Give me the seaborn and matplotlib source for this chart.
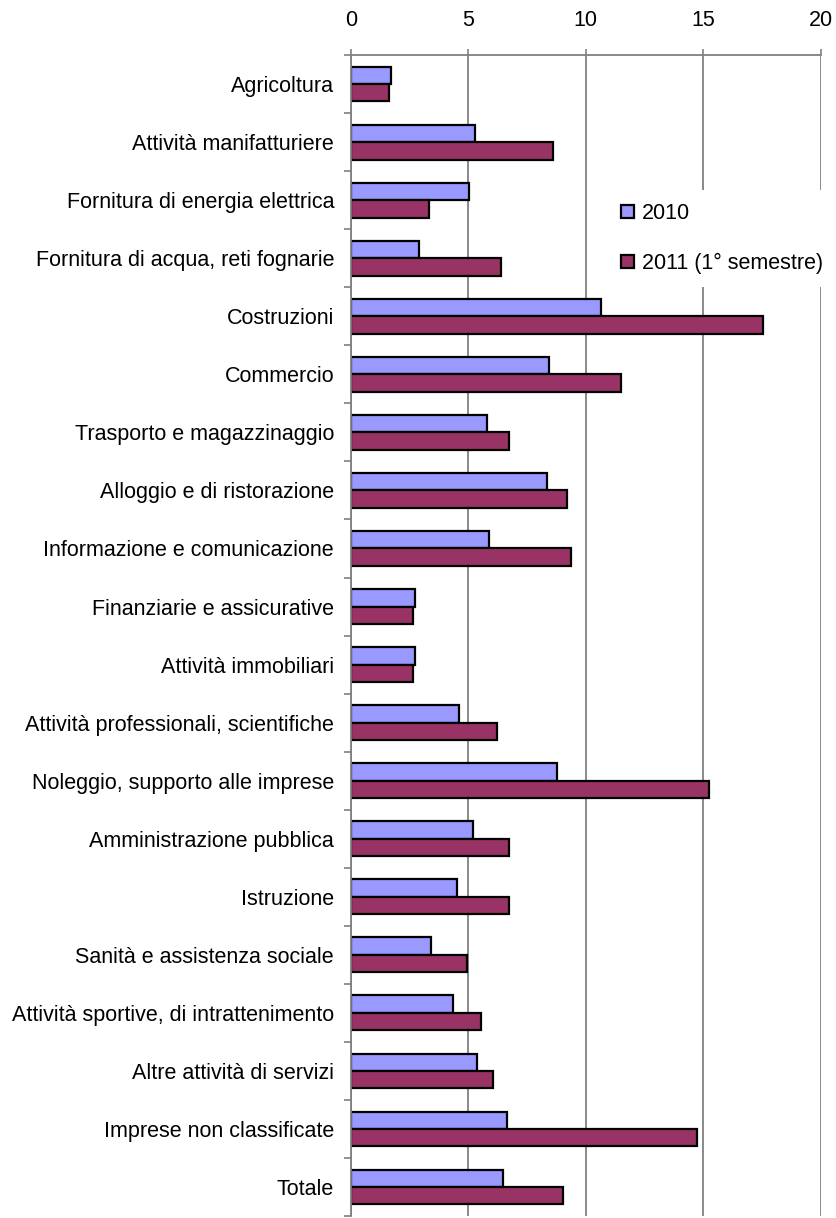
import numpy as np
import pandas as pd
import seaborn as sns
import matplotlib.pyplot as plt
from matplotlib.ticker import MultipleLocator

# %% 1 ── Data ──────────────────────────────────────────────────────────────
settori = [
    "Agricoltura",
    "Attività manifatturiere",
    "Fornitura di energia elettrica",
    "Fornitura di acqua, reti fognarie",
    "Costruzioni",
    "Commercio",
    "Trasporto e magazzinaggio",
    "Alloggio e di ristorazione",
    "Informazione e comunicazione",
    "Finanziarie e assicurative",
    "Attività immobiliari",
    "Attività professionali, scientifiche",
    "Noleggio, supporto alle imprese",
    "Amministrazione pubblica",
    "Istruzione",
    "Sanità e assistenza sociale",
    "Attività sportive, di intrattenimento",
    "Altre attività di servizi",
    "Imprese non classificate",
    "Totale",
]
val_2010 = [1.71, 5.29, 5.02, 2.89, 10.64, 8.43, 5.79, 8.34, 5.87, 2.72,
            2.72, 4.60, 8.77, 5.20, 4.52, 3.40, 4.35, 5.36, 6.65, 6.47]
val_2011 = [1.63, 8.60, 3.33, 6.40, 17.53, 11.50, 6.74, 9.20, 9.36, 2.64,
            2.64, 6.21, 15.23, 6.74, 6.74, 4.95, 5.54, 6.04, 14.74, 9.03]
serie = ["2010", "2011 (1° semestre)"]
colori = ["#9999FF", "#993366"]
x_ticks = [0, 5, 10, 15, 20]

df = pd.DataFrame({
    "settore": settori * 2,
    "valore": val_2010 + val_2011,
    "serie": [serie[0]] * len(settori) + [serie[1]] * len(settori),
})

# %% 2 ── Plot ──────────────────────────────────────────────────────────────
sns.set_theme(style="white")
plt.rcParams["font.family"] = ["Liberation Sans", "DejaVu Sans"]

fig = plt.figure(figsize=(8.37, 12.18), dpi=100)
ax = fig.add_axes([0.419, 0.0016, 0.5616, 0.9532])

sns.barplot(
    data=df, x="valore", y="settore", hue="serie", order=settori,
    hue_order=serie, palette=colori, saturation=1, orient="h", width=0.6,
    gap=0, edgecolor="black", linewidth=1.6, ax=ax, legend=True,
)

ax.set_xlim(0, 20)
ax.set_ylim(len(settori) - 0.5, -0.5)
ax.set_xticks(x_ticks)
ax.xaxis.tick_top()
ax.set_xlabel("")
ax.set_ylabel("")

# vertical gridlines, grey frame on top/left only
ax.set_axisbelow(True)
ax.xaxis.grid(True, color="#808080", linewidth=1.3)
ax.yaxis.grid(False)
for side in ["bottom", "right"]:
    ax.spines[side].set_visible(False)
for side in ["top", "left"]:
    ax.spines[side].set_color("#808080")
    ax.spines[side].set_linewidth(1.3)

ax.tick_params(axis="x", top=True, bottom=False, length=4, width=1.2,
               color="#808080", labelsize=15.5, pad=13, labelcolor="black")
ax.tick_params(axis="y", which="major", left=False, length=0, pad=12,
               labelsize=15.5, labelcolor="black")
ax.yaxis.set_minor_locator(MultipleLocator(1, offset=0.5))
ax.tick_params(axis="y", which="minor", left=True, length=5, width=1.2,
               color="#808080")

leg = ax.legend(
    loc="upper left", bbox_to_anchor=(0.525, 0.893), frameon=True,
    facecolor="white", edgecolor="none", framealpha=1, fancybox=False,
    fontsize=15.5, handlelength=0.6, handleheight=0.6, handletextpad=0.35,
    labelspacing=1.35, borderpad=0.6, labelcolor="black",
)
for h in leg.legend_handles:
    h.set_edgecolor("black")
    h.set_linewidth(1.6)

fig.savefig("out.png", dpi=100)
